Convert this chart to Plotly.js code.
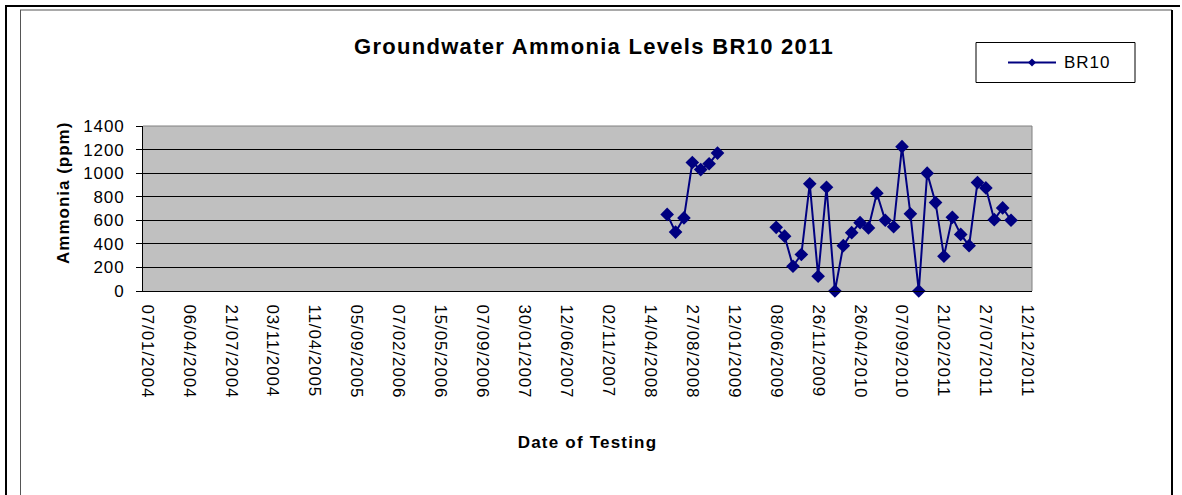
<!DOCTYPE html>
<html>
<head>
<meta charset="utf-8">
<script src="https://cdn.plot.ly/plotly-3.0.1.min.js"></script>
<style>
  html, body { margin: 0; padding: 0; background: #fff; }
  #chart { width: 1182px; height: 495px; }
  .xtick text, .ytick text { letter-spacing: 0.9px; }
  .gtitle { letter-spacing: 1.3px; }
  .xtitle { letter-spacing: 1.2px; }
  .annotation-text { letter-spacing: 1px; }
</style>
</head>
<body>
<div id="chart"></div>
<script>
// ---- data ----
const chartTitle = 'Groundwater Ammonia Levels BR10 2011';
const seriesName = 'BR10';
const xTitle = 'Date of Testing';
const yTitle = 'Ammonia (ppm)';

// date labels shown on the category axis (every 5th test date)
const dateLabels = [
  '07/01/2004', '06/04/2004', '21/07/2004', '03/11/2004', '11/04/2005',
  '05/09/2005', '07/02/2006', '15/05/2006', '07/09/2006', '30/01/2007',
  '12/06/2007', '02/11/2007', '14/04/2008', '27/08/2008', '12/01/2009',
  '08/06/2009', '26/11/2009', '26/04/2010', '07/09/2010', '21/02/2011',
  '27/07/2011', '12/12/2011'
];
const categoryCount = 106;

// position of each sample among the test dates, and its reading
const sampleIndex = [62, 63, 64, 65, 66, 67, 68, 69,
  75, 76, 77, 78, 79, 80, 81, 82, 83, 84, 85, 86, 87, 88, 89, 90, 91,
  92, 93, 94, 95, 96, 97, 98, 99, 100, 101, 102, 103];
const ammoniaPpm = [650, 500, 620, 1090, 1030, 1080, 1170, null,
  540, 465, 210, 310, 910, 125, 880, 0, 385, 495, 580, 535, 830, 600, 545, 1225, 655,
  0, 1000, 750, 295, 625, 480, 385, 920, 875, 605, 705, 600];

// ---- layout helpers (pixel geometry) ----
const W = 1182, H = 495;
const PL = 143, PR = 1032, PT = 126, PB = 291;
const fx = px => (px - PL) / (PR - PL);
const fy = py => (PB - py) / (PB - PT);
const FONT = 'Liberation Sans, Arial, sans-serif';
const NAVY = '#000080';

const labelVals = dateLabels.map((_, i) => i * 5);
const boundaryVals = [];
for (let b = -0.5; b <= categoryCount - 0.5; b += 3) boundaryVals.push(b);
const xRange = [-0.5, categoryCount - 0.5];

const trace = {
  type: 'scatter',
  mode: 'lines+markers',
  name: seriesName,
  x: sampleIndex,
  y: ammoniaPpm,
  connectgaps: false,
  cliponaxis: false,
  line: { color: NAVY, width: 2 },
  marker: { symbol: 'diamond', size: 10.5, color: NAVY },
  showlegend: false,
  hoverinfo: 'x+y'
};

function hline(x0, x1, y, color, width) {
  return { type: 'line', xref: 'paper', yref: 'paper', x0: fx(x0), x1: fx(x1), y0: fy(y), y1: fy(y),
           line: { color: color, width: width }, layer: 'above' };
}
function vline(x, y0, y1, color, width) {
  return { type: 'line', xref: 'paper', yref: 'paper', x0: fx(x), x1: fx(x), y0: fy(y0), y1: fy(y1),
           line: { color: color, width: width }, layer: 'above' };
}

// legend geometry
const LG = { x0: 976, x1: 1135, y0: 42.5, y1: 82.5, cy: 62.5, lx0: 1008, lx1: 1056, mx: 1032, mr: 4 };
const diamondPath = 'M' + fx(LG.mx) + ',' + fy(LG.cy - LG.mr) +
  ' L' + fx(LG.mx + LG.mr) + ',' + fy(LG.cy) +
  ' L' + fx(LG.mx) + ',' + fy(LG.cy + LG.mr) +
  ' L' + fx(LG.mx - LG.mr) + ',' + fy(LG.cy) + ' Z';

const shapes = [
  // document frame
  hline(5, 1180, 6, '#000', 2),
  vline(6, 5, 520, '#000', 2),
  hline(20, 1172, 10, '#555', 1),
  vline(20.5, 10, 520, '#555', 1),
  vline(1172, 10, 520, '#000', 2),
  // plot area border (top / right)
  hline(PL, PR, PT, '#808080', 1),
  vline(PR, PT, PB, '#808080', 1),
  // legend
  { type: 'rect', xref: 'paper', yref: 'paper', x0: fx(LG.x0), x1: fx(LG.x1), y0: fy(LG.y1), y1: fy(LG.y0),
    line: { color: '#000', width: 1 }, fillcolor: '#fff', layer: 'above' },
  hline(LG.lx0, LG.lx1, LG.cy, NAVY, 2),
  { type: 'path', xref: 'paper', yref: 'paper', path: diamondPath, fillcolor: NAVY, line: { color: NAVY, width: 0 }, layer: 'above' }
];

const layout = {
  width: W, height: H,
  margin: { l: PL, r: W - PR, t: PT, b: H - PB, pad: 0 },
  paper_bgcolor: '#ffffff',
  plot_bgcolor: '#c0c0c0',
  font: { family: FONT, size: 17, color: '#000' },
  title: {
    text: chartTitle,
    font: { family: FONT, size: 22, weight: 'bold', color: '#000' },
    xref: 'container', yref: 'container',
    x: 594 / W, xanchor: 'center',
    y: 1 - 46 / H, yanchor: 'middle'
  },
  xaxis: {
    range: xRange,
    tickmode: 'array', tickvals: labelVals, ticktext: dateLabels,
    tickangle: 90,
    ticks: 'outside', ticklen: 5, tickcolor: 'rgba(0,0,0,0)',
    ticklabelstandoff: 4,
    tickfont: { family: FONT, size: 17, color: '#000' },
    showgrid: false, zeroline: false,
    showline: true, linecolor: '#000', linewidth: 1,
    title: { text: xTitle, font: { family: FONT, size: 17, weight: 'bold', color: '#000' }, standoff: 38 },
    fixedrange: true
  },
  xaxis2: {
    overlaying: 'x', anchor: 'y', side: 'bottom',
    range: xRange,
    tickmode: 'array', tickvals: boundaryVals,
    ticks: 'outside', ticklen: 5, tickcolor: '#000', tickwidth: 1,
    showticklabels: false, showgrid: false, zeroline: false, showline: false,
    fixedrange: true
  },
  yaxis: {
    range: [0, 1400], tickmode: 'linear', tick0: 0, dtick: 200,
    ticks: 'outside', ticklen: 6, tickcolor: '#000',
    ticklabelstandoff: 8,
    tickfont: { family: FONT, size: 17, color: '#000' },
    showgrid: true, gridcolor: '#000', gridwidth: 1,
    zeroline: false,
    showline: true, linecolor: '#000', linewidth: 1,
    fixedrange: true
  },
  shapes: shapes,
  annotations: [
    {
      xref: 'paper', yref: 'paper', x: fx(1062), y: fy(LG.cy),
      xanchor: 'left', yanchor: 'middle', showarrow: false,
      text: seriesName, font: { family: FONT, size: 17, color: '#000' }
    },
    {
      xref: 'paper', yref: 'paper', x: fx(63.5), y: fy(193.5),
      xanchor: 'center', yanchor: 'middle', showarrow: false, textangle: -90,
      text: yTitle, font: { family: FONT, size: 17, weight: 'bold', color: '#000' }
    }
  ],
  showlegend: false
};

Plotly.newPlot('chart', [trace], layout, { displayModeBar: false, staticPlot: true });
</script>
</body>
</html>
